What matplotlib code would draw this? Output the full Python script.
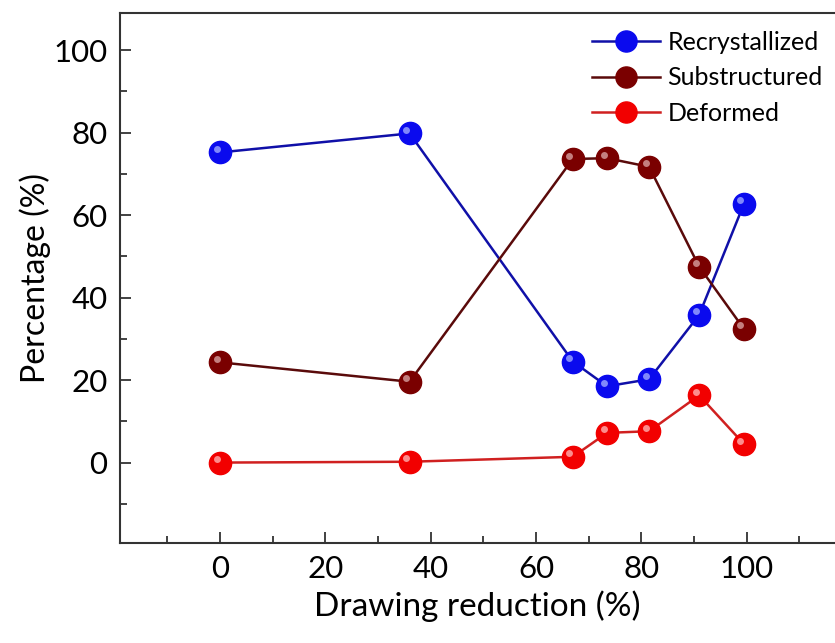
import matplotlib
matplotlib.use("Agg")
import matplotlib.pyplot as plt
from matplotlib.ticker import MultipleLocator
import matplotlib.transforms as mtransforms

plt.rcParams['font.family'] = ['Lato', 'DejaVu Sans']

reduction = [0, 36, 67, 73.5, 81.5, 91, 99.5]
recrystallized = [75.2, 79.8, 24.5, 18.5, 20.2, 35.8, 62.7]
substructured = [24.3, 19.6, 73.6, 73.8, 71.7, 47.5, 32.4]
deformed = [0.0, 0.2, 1.4, 7.2, 7.6, 16.3, 4.5]

series = [
    ("Recrystallized", recrystallized, "#1010A8", "#0A0AEE", "#9FA8FF"),
    ("Substructured", substructured, "#5A0A0A", "#7A0000", "#D8A0A0"),
    ("Deformed", deformed, "#D02020", "#F20000", "#FFB0B0"),
]

fig = plt.figure(figsize=(8.35, 6.43), dpi=100)
ax = fig.add_axes([120/835, 100/643, 1 - 120/835, 530/643])

for name, vals, lc, mc, hc in series:
    ax.plot(reduction, vals, color=lc, lw=1.8, marker='o', ms=16,
            mfc=mc, mec=mc, label=name, zorder=3)
    off = mtransforms.offset_copy(ax.transData, fig=fig, x=-2.5, y=2.5, units='points')
    ax.plot(reduction, vals, ls='none', marker='o', ms=5, mfc=hc, mec='none',
            alpha=0.8, transform=off, zorder=4)

ax.set_xlim(-19, 116.8)
ax.set_ylim(-19.5, 109)
ax.xaxis.set_major_locator(MultipleLocator(20))
ax.xaxis.set_minor_locator(MultipleLocator(10))
ax.yaxis.set_major_locator(MultipleLocator(20))
ax.yaxis.set_minor_locator(MultipleLocator(10))
ax.tick_params(which='both', direction='in', top=False, right=False,
               labelsize=22.5, color='#333333', width=1.3)
ax.tick_params(which='major', length=8, pad=9)
ax.tick_params(which='minor', length=5)
ax.spines['right'].set_visible(False)
for s in ['left', 'bottom', 'top']:
    ax.spines[s].set_color('#333333')
    ax.spines[s].set_linewidth(1.5)

ax.set_xlabel("Drawing reduction (%)", fontsize=24, labelpad=5)
ax.set_ylabel("Percentage (%)", fontsize=23, labelpad=2)

ax.legend(loc='upper right', frameon=False, fontsize=18, handlelength=2.7,
          handletextpad=0.3, labelspacing=0.5, borderaxespad=0.1,
          bbox_to_anchor=(1.0, 0.99), markerscale=0.95)

fig.savefig("out.png", dpi=100)
